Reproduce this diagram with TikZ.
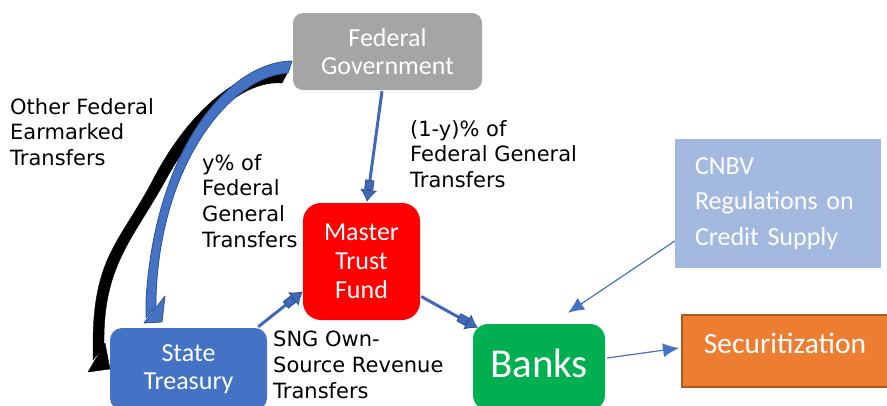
\documentclass[tikz,border=0pt]{standalone}
\usepackage{fontspec}
\setmainfont{Carlito}
\newfontfamily\lblfont{DejaVu Sans}
\usetikzlibrary{arrows.meta,calc}

\definecolor{fgGray}{HTML}{A5A5A5}
\definecolor{mtfRed}{HTML}{FF0000}
\definecolor{stBlue}{HTML}{4472C4}
\definecolor{bankGreen}{HTML}{00B050}
\definecolor{cnbvBlue}{HTML}{A3B9E0}
\definecolor{secOrange}{HTML}{ED7D31}
\definecolor{secEdge}{HTML}{AE5A21}
\definecolor{flowEdge}{HTML}{2F528F}
\definecolor{flowBlue}{HTML}{3F68B8}

\begin{document}
\begin{tikzpicture}[x=1pt,y=-1pt,
  box/.style={inner sep=0pt, align=center, text=white,
    font=\fontsize{26}{28.5}\selectfont},
  lbl/.style={inner sep=0pt, anchor=north west, align=left,
    font=\lblfont\fontsize{21}{25.8}\selectfont},
  blockarrow/.style={draw=flowBlue, line width=3pt,
    -{Rectangle[length=10pt,width=9pt,sep=0pt,fill=flowBlue,color=flowEdge,line width=0.8pt]
      Latex[length=12pt,width=17pt,fill=flowBlue,color=flowEdge,line width=0.8pt]}},
  thinarrow/.style={draw=stBlue, line width=1.2pt,
    -{Latex[length=16pt,width=14pt]}},
  curveblue/.style={fill=stBlue, draw=flowEdge, line width=0.8pt, line join=round},
  curveblack/.style={fill=black, draw=black, line width=0.4pt, line join=round}]

\useasboundingbox (0,0) rectangle (887,405);
\clip (0,0) rectangle (887,405);

% boxes
\node[box, fill=fgGray, rounded corners=10pt, minimum width=189pt, minimum height=77pt]
  (fed) at (387.5,51.5) {Federal\\Government};
\node[box, fill=mtfRed, rounded corners=18pt, minimum width=117pt, minimum height=117pt,
  font=\fontsize{26}{29}\selectfont]
  (mtf) at (361.5,261.5) {Master\\Trust\\Fund};
\node[box, fill=stBlue, rounded corners=12pt, minimum width=157pt, minimum height=82pt]
  (st) at (188.5,369) {State\\Treasury};
\node[box, fill=bankGreen, rounded corners=15pt, minimum width=132pt, minimum height=86pt,
  font=\fontsize{41}{45}\selectfont, text height=29pt, text depth=9pt]
  (banks) at (539,367) {Banks};
\node[box, fill=cnbvBlue, minimum width=206pt, minimum height=129pt, align=left,
  text width=166pt, font=\fontsize{26}{35.5}\selectfont]
  (cnbv) at (778,203.5) {CNBV\\Regulations on\\Credit Supply};
\node[box, fill=secOrange, draw=secEdge, line width=2pt, minimum width=206pt,
  minimum height=72pt, font=\fontsize{29.5}{31}\selectfont, text height=21pt, text depth=16pt]
  (sec) at (785,351) {Securitization};

% flow labels
\node[lbl] (lother) at (10,98) {Other Federal\\Earmarked\\Transfers};
\node[lbl] (lshare) at (202,154) {y\% of\\Federal\\General\\Transfers};
\node[lbl] (lrest) at (410,120) {(1-y)\% of\\Federal General\\Transfers};
\node[lbl] (lown) at (273,331) {SNG Own-\\Source Revenue\\Transfers};

% curved transfer from the federal government, earmarked part
\fill[curveblack]
  (290,68) .. controls (242,66) and (190,110) .. (155,176)
  .. controls (121,242) and (93,255) .. (93,345)
  -- (93,360) -- (104,346) -- (104,340)
  .. controls (104,266) and (132,240) .. (164,183)
  .. controls (200,116) and (246,80) .. (282,83) -- cycle;
\fill[curveblack] (105,343) -- (88,372) -- (110,369) -- cycle;

% curved transfer, y% share
\filldraw[curveblue]
  (292,61) .. controls (228,62) and (155,150) .. (146,300)
  -- (146,318) -- (156,306) -- (156,298)
  .. controls (160,162) and (232,76) .. (288,73) -- cycle;
\filldraw[curveblue] (165,296) -- (144,323) -- (162,322) -- cycle;

% straight flows
\draw[blockarrow] ([xshift=-5.5pt,yshift=-1pt]fed.south) -- ([xshift=5.5pt,yshift=1pt]mtf.north);
\draw[blockarrow] ([xshift=-9pt,yshift=1pt]st.north east) -- ([yshift=-30pt]mtf.west);
\draw[blockarrow] ([xshift=1pt,yshift=-35pt]mtf.east) -- ([xshift=5pt,yshift=-4pt]banks.north west);
\draw[thinarrow] ([yshift=-37.5pt]cnbv.west) -- ([xshift=29pt,yshift=11pt]banks.north);
\draw[thinarrow] ([xshift=2pt,yshift=9pt]banks.east) -- ([xshift=-2pt,yshift=3pt]sec.west);

\end{tikzpicture}
\end{document}
